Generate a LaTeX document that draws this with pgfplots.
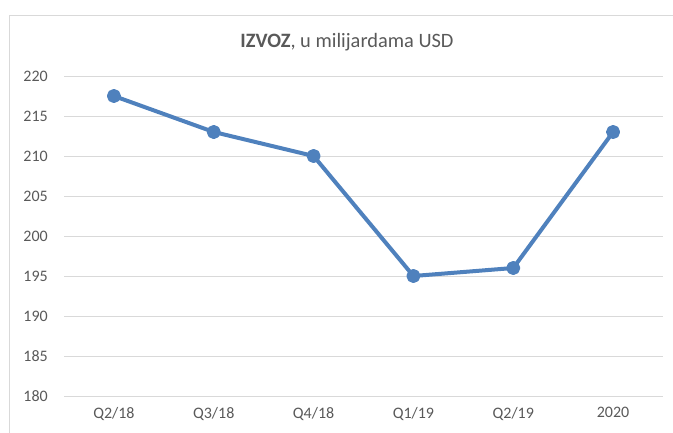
\documentclass[border=0pt]{standalone}
\usepackage{fontspec}
\setmainfont{Carlito}
\usepackage{pgfplots}
\pgfplotsset{compat=1.18}
\definecolor{txtgray}{HTML}{595959}
\definecolor{gridgray}{HTML}{D9D9D9}
\definecolor{framegray}{HTML}{D9D9D9}
\definecolor{serblue}{RGB}{79,129,189}
\begin{document}
\begin{tikzpicture}
  % 1px = 0.75pt
  \path[use as bounding box] (0,0) rectangle (504.75pt,324pt);
  \draw[framegray, line width=0.75pt] (6.75pt,-10pt) rectangle (515pt,312pt);
  \node[txtgray, font=\fontsize{15.3}{18}\selectfont] at (260.25pt,292.5pt)
    {\textbf{IZVOZ}, u milijardama USD};
  \begin{axis}[
      at={(48pt,27pt)}, anchor=south west,
      scale only axis,
      width=449.25pt, height=240pt,
      xmin=-0.5, xmax=5.5,
      ymin=180, ymax=220,
      xtick={0,...,5},
      xticklabels={Q2/18,Q3/18,Q4/18,Q1/19,Q2/19,2020},
      ytick={180,185,...,220},
      ymajorgrids,
      grid style={gridgray, line width=0.75pt},
      axis line style={draw=none},
      major tick length=0pt,
      /pgf/number format/assume math mode=true,
      ticklabel style={txtgray, font=\fontsize{12}{14}\selectfont, inner sep=0pt},
      yticklabel shift=12pt,
      xticklabel shift=8pt,
      clip=false,
  ]
  \addplot[serblue, line width=3pt, line join=round, mark=*, mark size=3.75pt,
           mark options={fill=serblue, draw=none}]
    coordinates {
    (0,217.5)
    (1,213)
    (2,210)
    (3,195)
    (4,196)
    (5,213)
    };
  \end{axis}
\end{tikzpicture}
\end{document}
